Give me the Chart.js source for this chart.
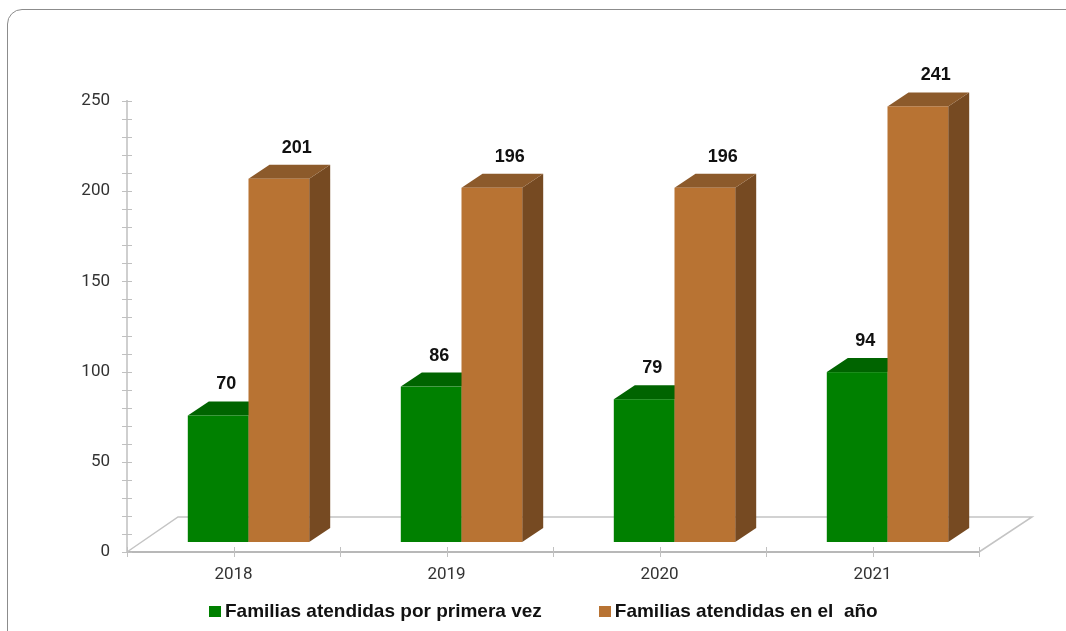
<!DOCTYPE html>
<html>
<head>
<meta charset="utf-8">
<script src="https://cdn.jsdelivr.net/npm/chart.js@4.4.0/dist/chart.umd.min.js"></script>
<style>
  html, body { margin: 0; padding: 0; background: #fff; }
  #wrap { position: relative; width: 1066px; height: 631px; overflow: hidden; }
  #card { position: absolute; left: 7px; top: 9px; width: 1100px; height: 700px;
          border: 1.5px solid #8c8c8c; border-radius: 15px; box-sizing: border-box; }
  canvas { position: absolute; left: 0; top: 0; }
  #legend { position: absolute; left: 209px; top: 600px; display: flex; gap: 57px;
            font: bold 19px "Liberation Sans", Arial, sans-serif; color: #111; white-space: pre; }
  #legend .item { display: flex; align-items: center; }
  #legend .box { display: inline-block; width: 12px; height: 11px; margin-right: 4px; }
</style>
</head>
<body>
<div id="wrap">
  <div id="card"></div>
  <canvas id="chart" width="1066" height="631"></canvas>
  <div id="legend"></div>
</div>
<script>
// data
const years = ['2018', '2019', '2020', '2021'];
const primeraVez = [70, 86, 79, 94];
const enElAnio = [201, 196, 196, 241];
const seriesNames = ['Familias atendidas por primera vez', 'Familias atendidas en el  año'];

const frontColors = ['#008000', '#b87333'];
const topColors = ['#006400', '#8c5a2b'];
const sideColors = ['#005200', '#764a22'];
const labelShift = [8, 18];

// 3d look: depth offset of the boxes and shift of the whole bar row
const DX = 21, DY = -14, SHIFT = 15;

const bar3d = {
    id: 'bar3d',
    beforeDatasetsDraw(chart) {
        const ctx = chart.ctx;
        const area = chart.chartArea;
        const x = chart.scales.x, y = chart.scales.y;
        ctx.save();

        // floor
        ctx.strokeStyle = '#c4c4c4';
        ctx.lineWidth = 1.5;
        ctx.beginPath();
        ctx.moveTo(area.left, area.bottom);
        ctx.lineTo(area.left + 51, area.bottom - 35);
        ctx.lineTo(area.right + 53, area.bottom - 35);
        ctx.lineTo(area.right, area.bottom);
        ctx.stroke();

        // tick marks crossing the axes
        ctx.strokeStyle = '#c0c0c0';
        ctx.lineWidth = 1;
        y.ticks.forEach(function(t, i) {
            const py = Math.round(y.getPixelForTick(i)) + 0.5;
            ctx.beginPath();
            ctx.moveTo(area.left - 5, py);
            ctx.lineTo(area.left + 5, py);
            ctx.stroke();
        });
        const w = (area.right - area.left) / years.length;
        const xs = [];
        for (let k = 0; k <= years.length; k++) xs.push(area.left + k * w);
        for (let i = 0; i < years.length; i++) xs.push(x.getPixelForTick(i));
        xs.forEach(function(px) {
            px = Math.round(px) + 0.5;
            ctx.beginPath();
            ctx.moveTo(px, area.bottom - 5);
            ctx.lineTo(px, area.bottom + 5);
            ctx.stroke();
        });

        // boxes
        for (let i = 0; i < years.length; i++) {
            chart.data.datasets.forEach(function(ds, d) {
                const el = chart.getDatasetMeta(d).data[i];
                const p = el.getProps(['x', 'y', 'base', 'width'], true);
                const l = p.x - p.width / 2 + SHIFT;
                const r = p.x + p.width / 2 + SHIFT;
                const t = p.y, b = p.base;

                ctx.fillStyle = sideColors[d];
                ctx.beginPath();
                ctx.moveTo(r, t); ctx.lineTo(r + DX, t + DY);
                ctx.lineTo(r + DX, b + DY); ctx.lineTo(r, b);
                ctx.closePath(); ctx.fill();

                ctx.fillStyle = topColors[d];
                ctx.beginPath();
                ctx.moveTo(l, t); ctx.lineTo(l + DX, t + DY);
                ctx.lineTo(r + DX, t + DY); ctx.lineTo(r, t);
                ctx.closePath(); ctx.fill();

                ctx.fillStyle = frontColors[d];
                ctx.fillRect(l, t, r - l, b - t);

                ctx.fillStyle = '#111';
                ctx.font = 'bold 18px "Liberation Sans", Arial, sans-serif';
                ctx.textAlign = 'center';
                ctx.textBaseline = 'alphabetic';
                ctx.fillText(String(ds.data[i]), (l + r) / 2 + labelShift[d], t + DY - 12);
            });
        }
        ctx.restore();
        return false;
    }
};

const chart = new Chart(document.getElementById('chart'), {
    type: 'bar',
    data: {
        labels: years,
        datasets: [
            { label: seriesNames[0], data: primeraVez, backgroundColor: frontColors[0], yAxisID: 'yBar' },
            { label: seriesNames[1], data: enElAnio, backgroundColor: frontColors[1], yAxisID: 'yBar' }
        ]
    },
    options: {
        responsive: false,
        animation: false,
        devicePixelRatio: 1,
        layout: { padding: { top: 101, right: 87, bottom: 39, left: 0 } },
        datasets: { bar: { categoryPercentage: 0.57, barPercentage: 1.0 } },
        plugins: { legend: { display: false }, tooltip: { enabled: false } },
        scales: {
            x: {
                offset: true,
                grid: { display: false },
                border: { display: true, color: '#b8b8b8', width: 2 },
                ticks: { padding: 5, color: '#333', font: { family: 'Roboto', size: 17 } },
                afterFit: function(s) { s.height = 40; }
            },
            y: {
                min: 0, max: 250,
                grid: { display: false },
                border: { display: true, color: '#cfcfcf', width: 2 },
                ticks: {
                    stepSize: 10, autoSkip: false, padding: 9, color: '#333',
                    font: { family: 'Roboto', size: 17 },
                    callback: function(v) { return v % 50 === 0 ? v : ''; }
                },
                afterFit: function(s) { s.width = 127; }
            },
            yBar: { display: false, min: -5.53, max: 244 }
        }
    },
    plugins: [bar3d]
});

// html legend from the datasets
const legend = document.getElementById('legend');
chart.data.datasets.forEach(function(ds) {
    const item = document.createElement('span');
    item.className = 'item';
    const box = document.createElement('span');
    box.className = 'box';
    box.style.background = ds.backgroundColor;
    item.appendChild(box);
    item.appendChild(document.createTextNode(ds.label));
    legend.appendChild(item);
});
</script>
</body>
</html>
